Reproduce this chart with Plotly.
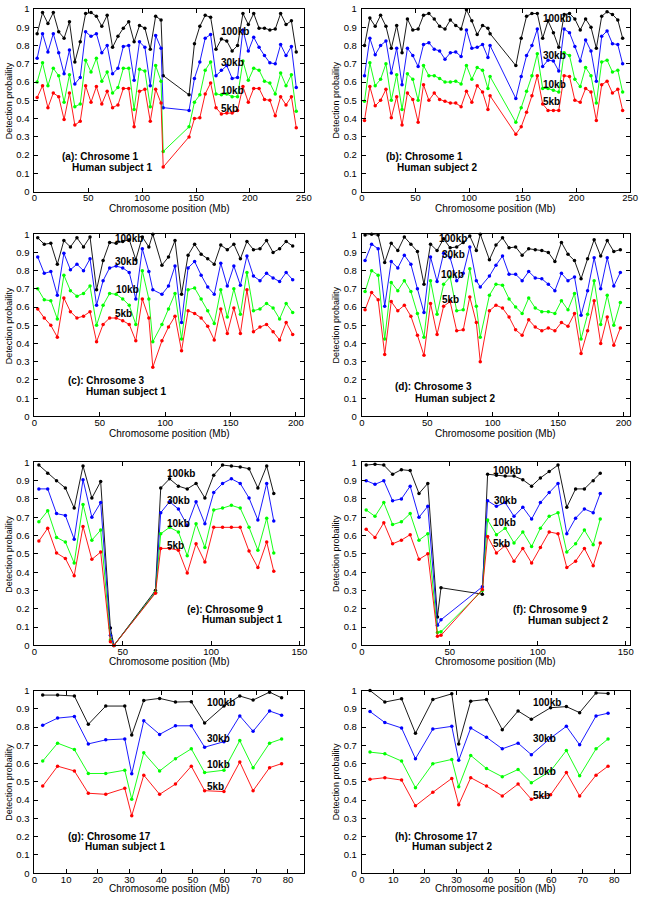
import plotly.graph_objects as go

W, H = 647, 900

# ---------------- data ----------------
series_names = ["100kb", "30kb", "10kb", "5kb"]
series_colors = ["#000000", "#0000ff", "#00ff00", "#ff0000"]

chr1_x = [2.5, 7.5, 12.5, 17.5, 22.5, 27.5, 32.5, 37.5, 42.5, 47.5, 52.5, 57.5, 62.5, 67.5, 72.5,
          77.5, 82.5, 87.5, 92.5, 97.5, 102.5, 107.5, 112.5, 117.5, 119.5, 143.5, 148.5, 153.5,
          158.5, 163.5, 168.5, 173.5, 178.5, 183.5, 188.5, 193.5, 198.5, 203.5, 208.5, 213.5,
          218.5, 223.5, 228.5, 233.5, 238.5, 243.0]

a_100 = [0.865, 0.98, 0.92, 0.98, 0.875, 0.84, 0.93, 0.71, 0.82, 0.975, 0.98, 0.96, 0.905, 0.965, 0.79,
         0.85, 0.895, 0.93, 0.82, 0.91, 0.895, 0.78, 0.96, 0.94, 0.635, 0.53, 0.81, 0.905, 0.965, 0.955,
         0.78, 0.835, 0.825, 0.77, 0.80, 0.975, 0.915, 0.975, 0.895, 0.895, 0.885, 0.89, 0.975, 0.915,
         0.935, 0.765]
a_30 = [0.73, 0.865, 0.765, 0.865, 0.76, 0.645, 0.775, 0.59, 0.625, 0.875, 0.85, 0.865, 0.76, 0.80, 0.645,
        0.675, 0.795, 0.80, 0.61, 0.82, 0.79, 0.58, 0.855, 0.785, 0.46, 0.445, 0.62, 0.71, 0.84, 0.86,
        0.635, 0.665, 0.69, 0.62, 0.625, 0.885, 0.77, 0.845, 0.79, 0.745, 0.705, 0.70, 0.805, 0.745,
        0.795, 0.57]
a_10 = [0.60, 0.705, 0.58, 0.675, 0.635, 0.49, 0.64, 0.465, 0.48, 0.72, 0.655, 0.73, 0.605, 0.655, 0.54,
        0.57, 0.675, 0.675, 0.45, 0.67, 0.66, 0.465, 0.69, 0.605, 0.22, 0.355, 0.49, 0.53, 0.665, 0.71,
        0.535, 0.53, 0.535, 0.52, 0.52, 0.715, 0.61, 0.675, 0.665, 0.605, 0.595, 0.535, 0.65, 0.58,
        0.64, 0.44]
a_5 = [0.515, 0.58, 0.46, 0.54, 0.52, 0.395, 0.54, 0.365, 0.385, 0.58, 0.49, 0.575, 0.48, 0.55, 0.46,
       0.475, 0.565, 0.565, 0.355, 0.55, 0.56, 0.385, 0.56, 0.485, 0.135, 0.30, 0.40, 0.405, 0.535,
       0.595, 0.46, 0.425, 0.43, 0.43, 0.445, 0.575, 0.49, 0.565, 0.565, 0.505, 0.50, 0.415, 0.52,
       0.475, 0.52, 0.35]

b_100 = [0.80, 0.95, 0.905, 0.965, 0.905, 0.785, 0.91, 0.76, 0.945, 0.885, 0.89, 0.965, 0.975, 0.945,
         0.905, 0.89, 0.94, 0.91, 0.89, 0.995, 0.935, 0.86, 0.91, 0.895, 0.865, 0.69, 0.84, 0.96, 0.975,
         0.975, 0.84, 0.935, 0.87, 0.79, 0.97, 0.975, 0.945, 0.885, 0.945, 0.90, 0.785, 0.96, 0.985,
         0.97, 0.94, 0.84]
b_30 = [0.635, 0.84, 0.75, 0.80, 0.825, 0.65, 0.785, 0.585, 0.785, 0.745, 0.685, 0.805, 0.815, 0.78,
        0.77, 0.725, 0.76, 0.765, 0.74, 0.885, 0.785, 0.79, 0.805, 0.735, 0.80, 0.51, 0.63, 0.745, 0.80,
        0.89, 0.685, 0.72, 0.715, 0.66, 0.89, 0.87, 0.795, 0.715, 0.83, 0.77, 0.605, 0.85, 0.88, 0.81,
        0.805, 0.70]
b_10 = [0.495, 0.705, 0.58, 0.615, 0.70, 0.50, 0.64, 0.45, 0.645, 0.615, 0.50, 0.69, 0.635, 0.635, 0.62,
        0.60, 0.60, 0.605, 0.59, 0.69, 0.615, 0.68, 0.665, 0.565, 0.63, 0.38, 0.46, 0.55, 0.635, 0.755,
        0.565, 0.565, 0.555, 0.545, 0.76, 0.745, 0.615, 0.575, 0.68, 0.635, 0.485, 0.71, 0.72, 0.655,
        0.665, 0.545]
b_5 = [0.39, 0.575, 0.47, 0.50, 0.56, 0.405, 0.52, 0.365, 0.54, 0.505, 0.38, 0.585, 0.50, 0.54, 0.505,
       0.495, 0.485, 0.485, 0.465, 0.55, 0.49, 0.58, 0.545, 0.45, 0.525, 0.315, 0.355, 0.435, 0.525,
       0.635, 0.48, 0.445, 0.445, 0.445, 0.635, 0.63, 0.50, 0.49, 0.565, 0.545, 0.39, 0.585, 0.605,
       0.54, 0.56, 0.445]

chr3_x = [2.5, 7.5, 12.5, 17.5, 22.5, 27.5, 32.5, 37.5, 42.5, 47.5, 52.5, 57.5, 62.5, 67.5, 72.5, 77.5,
          82.5, 87.5, 90.5, 97.5, 102.5, 107.5, 112.5, 117.5, 122.5, 127.5, 132.5, 137.5, 142.5, 147.5,
          152.5, 157.5, 162.5, 167.5, 172.5, 177.5, 182.5, 187.5, 192.5, 197.5]

c_100 = [0.98, 0.945, 0.95, 0.835, 0.965, 0.93, 0.98, 0.93, 0.985, 0.695, 0.855, 0.955, 0.95, 0.96, 0.97,
         0.86, 0.985, 0.93, 1.0, 0.83, 0.875, 0.965, 0.67, 0.885, 0.945, 0.89, 0.865, 0.835, 0.94, 0.915,
         0.945, 0.865, 0.96, 0.915, 0.92, 0.965, 0.90, 0.92, 0.96, 0.935]
c_30 = [0.875, 0.785, 0.795, 0.665, 0.895, 0.805, 0.835, 0.80, 0.865, 0.61, 0.745, 0.815, 0.825, 0.815,
        0.79, 0.645, 0.92, 0.795, 0.695, 0.67, 0.715, 0.825, 0.515, 0.815, 0.85, 0.775, 0.71, 0.67, 0.84,
        0.715, 0.825, 0.72, 0.88, 0.77, 0.745, 0.785, 0.76, 0.74, 0.79, 0.75]
c_10 = [0.70, 0.64, 0.635, 0.535, 0.775, 0.69, 0.66, 0.675, 0.715, 0.50, 0.61, 0.675, 0.67, 0.645, 0.61,
        0.505, 0.80, 0.645, 0.41, 0.505, 0.59, 0.675, 0.425, 0.695, 0.705, 0.645, 0.58, 0.51, 0.695,
        0.545, 0.70, 0.56, 0.79, 0.58, 0.59, 0.62, 0.595, 0.535, 0.62, 0.57]
c_5 = [0.59, 0.54, 0.50, 0.435, 0.65, 0.575, 0.54, 0.55, 0.575, 0.41, 0.505, 0.54, 0.54, 0.525, 0.505,
       0.415, 0.645, 0.54, 0.27, 0.415, 0.49, 0.55, 0.36, 0.58, 0.565, 0.54, 0.495, 0.42, 0.59, 0.455,
       0.595, 0.455, 0.695, 0.465, 0.49, 0.505, 0.465, 0.42, 0.515, 0.45]

d_100 = [0.995, 1.0, 0.995, 0.845, 0.95, 0.91, 0.985, 0.945, 0.905, 0.725, 0.945, 0.91, 0.975, 0.925,
         0.93, 0.955, 0.99, 0.91, 1.0, 0.86, 0.94, 0.98, 0.925, 0.93, 0.885, 0.92, 0.915, 0.91, 0.90,
         0.85, 0.955, 0.89, 0.855, 0.755, 0.865, 0.97, 0.88, 0.965, 0.905, 0.915]
d_30 = [0.855, 0.945, 0.92, 0.605, 0.85, 0.815, 0.885, 0.835, 0.70, 0.57, 0.875, 0.74, 0.895, 0.87, 0.745,
        0.785, 0.93, 0.745, 0.71, 0.77, 0.83, 0.88, 0.78, 0.78, 0.745, 0.795, 0.76, 0.755, 0.725, 0.69,
        0.785, 0.745, 0.765, 0.555, 0.69, 0.87, 0.70, 0.87, 0.715, 0.79]
d_10 = [0.685, 0.80, 0.775, 0.425, 0.735, 0.69, 0.745, 0.685, 0.565, 0.435, 0.745, 0.56, 0.725, 0.765,
        0.58, 0.585, 0.81, 0.605, 0.435, 0.665, 0.725, 0.72, 0.645, 0.60, 0.565, 0.65, 0.595, 0.575,
        0.575, 0.565, 0.635, 0.585, 0.675, 0.425, 0.56, 0.745, 0.505, 0.665, 0.50, 0.625]
d_5 = [0.585, 0.68, 0.64, 0.34, 0.63, 0.58, 0.61, 0.55, 0.445, 0.335, 0.62, 0.45, 0.605, 0.63, 0.47,
       0.475, 0.655, 0.515, 0.30, 0.58, 0.61, 0.595, 0.545, 0.475, 0.445, 0.53, 0.49, 0.47, 0.485, 0.47,
       0.515, 0.495, 0.565, 0.345, 0.47, 0.635, 0.40, 0.545, 0.39, 0.485]

chr9_x = [2.5, 7.5, 12.5, 17.5, 22.5, 27.5, 32.5, 37.5, 43.0, 45.0, 68.5, 71.5, 76.5, 81.5, 86.5, 91.5,
          96.5, 101.5, 106.5, 111.5, 116.5, 121.5, 126.5, 131.5, 135.5]

e_100 = [0.985, 0.94, 0.90, 0.86, 0.75, 0.98, 0.805, 0.895, 0.095, 0.0, 0.30, 0.86, 0.91, 0.87, 0.855,
         0.885, 0.805, 0.93, 0.985, 0.98, 0.975, 0.965, 0.86, 0.98, 0.83]
e_30 = [0.855, 0.855, 0.72, 0.71, 0.58, 0.905, 0.70, 0.78, 0.055, 0.0, 0.29, 0.725, 0.785, 0.745, 0.655,
        0.785, 0.665, 0.835, 0.885, 0.91, 0.885, 0.805, 0.685, 0.885, 0.68]
e_10 = [0.675, 0.735, 0.59, 0.565, 0.45, 0.77, 0.575, 0.63, 0.03, 0.0, 0.29, 0.61, 0.645, 0.62, 0.49,
        0.665, 0.535, 0.74, 0.75, 0.765, 0.75, 0.645, 0.52, 0.695, 0.505]
e_5 = [0.57, 0.64, 0.505, 0.475, 0.38, 0.65, 0.47, 0.51, 0.02, 0.0, 0.285, 0.53, 0.53, 0.52, 0.395, 0.555,
       0.455, 0.645, 0.645, 0.645, 0.645, 0.515, 0.425, 0.565, 0.405]

f_100 = [0.985, 0.99, 0.985, 0.935, 0.96, 0.955, 0.83, 0.885, 0.155, 0.315, 0.28, 0.935, 0.93, 0.925,
         0.925, 0.905, 0.87, 0.915, 0.95, 0.985, 0.755, 0.855, 0.855, 0.90, 0.94]
f_30 = [0.90, 0.88, 0.90, 0.79, 0.80, 0.87, 0.70, 0.76, 0.11, 0.14, 0.32, 0.79, 0.76, 0.78, 0.705, 0.755,
        0.69, 0.78, 0.835, 0.885, 0.61, 0.695, 0.745, 0.725, 0.83]
f_10 = [0.74, 0.705, 0.78, 0.66, 0.675, 0.72, 0.575, 0.61, 0.07, 0.075, 0.30, 0.685, 0.605, 0.64, 0.56,
        0.62, 0.54, 0.64, 0.705, 0.725, 0.51, 0.555, 0.63, 0.55, 0.69]
f_5 = [0.635, 0.59, 0.67, 0.555, 0.575, 0.605, 0.47, 0.50, 0.05, 0.055, 0.305, 0.595, 0.505, 0.545, 0.46,
       0.53, 0.45, 0.535, 0.62, 0.61, 0.425, 0.46, 0.53, 0.435, 0.56]

chr17_x = [2.6, 7.3, 12.6, 17.0, 22.5, 28.5, 30.7, 34.5, 39.5, 44.5, 49.5, 53.7, 59.8, 64.8, 69.0, 74.2, 78.0]

g_100 = [0.975, 0.975, 0.97, 0.815, 0.915, 0.915, 0.757, 0.946, 0.957, 0.937, 0.939, 0.822, 0.915, 0.97,
         0.948, 0.991, 0.96]
g_30 = [0.81, 0.849, 0.858, 0.708, 0.73, 0.735, 0.544, 0.834, 0.76, 0.807, 0.807, 0.69, 0.72, 0.861, 0.777,
        0.888, 0.865]
g_10 = [0.614, 0.712, 0.677, 0.546, 0.546, 0.564, 0.405, 0.659, 0.56, 0.627, 0.681, 0.551, 0.564, 0.726,
        0.577, 0.712, 0.735]
g_5 = [0.477, 0.586, 0.56, 0.438, 0.432, 0.465, 0.315, 0.537, 0.432, 0.488, 0.586, 0.452, 0.447, 0.609,
       0.452, 0.578, 0.60]

h_100 = [1.0, 0.937, 0.955, 0.766, 0.951, 0.982, 0.708, 0.942, 0.951, 0.786, 0.888, 0.843, 0.906, 0.912,
         0.879, 0.987, 0.984]
h_30 = [0.885, 0.825, 0.795, 0.627, 0.789, 0.804, 0.618, 0.795, 0.744, 0.681, 0.712, 0.649, 0.74, 0.804,
        0.703, 0.861, 0.876]
h_10 = [0.663, 0.654, 0.614, 0.468, 0.60, 0.623, 0.474, 0.645, 0.573, 0.528, 0.568, 0.495, 0.56, 0.672,
        0.533, 0.681, 0.735]
h_5 = [0.514, 0.523, 0.51, 0.369, 0.443, 0.519, 0.375, 0.523, 0.477, 0.423, 0.488, 0.405, 0.429, 0.551,
       0.423, 0.537, 0.586]

xticks_chr1 = [0, 50, 100, 150, 200, 250]
xticks_chr3 = [0, 50, 100, 150, 200]
xticks_chr9 = [0, 50, 100, 150]
xticks_chr17 = [0, 10, 20, 30, 40, 50, 60, 70, 80]
yticks = [0, 0.1, 0.2, 0.3, 0.4, 0.5, 0.6, 0.7, 0.8, 0.9, 1]
ytick_text = ["0", "0.1", "0.2", "0.3", "0.4", "0.5", "0.6", "0.7", "0.8", "0.9", "1"]

captions = [("(a): Chrosome 1", "Human subject 1"), ("(b): Chrosome 1", "Human subject 2"),
            ("(c): Chrosome 3", "Human subject 1"), ("(d): Chrosome 3", "Human subject 2"),
            ("(e): Chrosome 9", "Human subject 1"), ("(f): Chrosome 9", "Human subject 2"),
            ("(g): Chrosome 17", "Human subject 1"), ("(h): Chrosome 17", "Human subject 2")]

# ---------------- layout config (pixels / data positions) ----------------
left_px = (32, 306)
right_px = (365, 638)
rows_px = [(3, 188), (231, 415.5), (462, 647.3), (693, 878)]
xtitle_px = [205, 432.5, 664, 893]

panels = [
    dict(x=chr1_x, s=[a_100, a_30, a_10, a_5], xmax=250, xt=xticks_chr1,
         lab=[(171, 0.877), (171, 0.708), (171, 0.555), (171, 0.454)], cap=((24, 0.193), (33, 0.135))),
    dict(x=chr1_x, s=[b_100, b_30, b_10, b_5], xmax=250, xt=xticks_chr1,
         lab=[(167, 0.946), (167, 0.748), (167, 0.585), (167, 0.495)], cap=((21, 0.193), (30.5, 0.135))),
    dict(x=chr3_x, s=[c_100, c_30, c_10, c_5], xmax=206, xt=xticks_chr3,
         lab=[(60, 0.975), (60, 0.851), (61, 0.697), (60, 0.565)], cap=((24, 0.197), (38, 0.138))),
    dict(x=chr3_x, s=[d_100, d_30, d_10, d_5], xmax=205, xt=xticks_chr3,
         lab=[(57.5, 0.975), (60, 0.888), (59, 0.776), (59.5, 0.644)], cap=((24, 0.163), (39, 0.10))),
    dict(x=chr9_x, s=[e_100, e_30, e_10, e_5], xmax=152.5, xt=xticks_chr9,
         lab=[(74, 0.937), (74, 0.794), (74, 0.668), (74, 0.546)], cap=((85, 0.198), (93.5, 0.14))),
    dict(x=chr9_x, s=[f_100, f_30, f_10, f_5], xmax=152.5, xt=xticks_chr9,
         lab=[(73.5, 0.955), (74, 0.794), (73.5, 0.672), (73.5, 0.555)], cap=((85, 0.198), (93.5, 0.138))),
    dict(x=chr17_x, s=[g_100, g_30, g_10, g_5], xmax=85, xt=xticks_chr17,
         lab=[(53.7, 0.937), (53.7, 0.739), (53.7, 0.596), (53.7, 0.474)], cap=((9.8, 0.202), (15.3, 0.145))),
    dict(x=chr17_x, s=[h_100, h_30, h_10, h_5], xmax=85, xt=xticks_chr17,
         lab=[(53.7, 0.937), (53.7, 0.739), (53.7, 0.559), (53.7, 0.425)], cap=((9.8, 0.202), (15.3, 0.145))),
]

FONT = "Arial, Liberation Sans, Helvetica, sans-serif"
fig = go.Figure()
annotations = []
layout = dict(width=W, height=H, margin=dict(l=0, r=0, t=0, b=0),
              paper_bgcolor="white", plot_bgcolor="white", showlegend=False,
              font=dict(family=FONT, size=10, color="black"))

for i, p in enumerate(panels):
    n = i + 1
    col = i % 2
    row = i // 2
    xp = left_px if col == 0 else right_px
    yp = rows_px[row]
    xname = "xaxis" if n == 1 else f"xaxis{n}"
    yname = "yaxis" if n == 1 else f"yaxis{n}"
    xref = "x" if n == 1 else f"x{n}"
    yref = "y" if n == 1 else f"y{n}"
    common = dict(showline=True, linecolor="black", linewidth=1, mirror="ticks", ticks="inside",
                  ticklen=4, tickcolor="black", showgrid=False, zeroline=False,
                  tickfont=dict(family=FONT, size=9.5, color="black"))
    layout[xname] = dict(domain=[xp[0] / W, xp[1] / W], range=[0, p["xmax"]], tickvals=p["xt"],
                         anchor=yref, ticklabelstandoff=-3, ticklabeloverflow="allow", **common)
    layout[yname] = dict(domain=[1 - yp[1] / H, 1 - yp[0] / H], range=[0, 1], tickvals=yticks,
                         ticktext=ytick_text, anchor=xref, ticklabelstandoff=2, **common)
    for sname, color, vals in zip(series_names, series_colors, p["s"]):
        fig.add_trace(go.Scatter(x=p["x"], y=vals, mode="lines+markers", name=sname,
                                 line=dict(color=color, width=0.9),
                                 marker=dict(color=color, size=3.5, symbol="circle"),
                                 xaxis=xref, yaxis=yref, cliponaxis=False))
    for sname, (lx, ly) in zip(series_names, p["lab"]):
        annotations.append(dict(x=lx, y=ly, xref=xref, yref=yref, text=f"<b>{sname}</b>",
                                showarrow=False, xanchor="left", yanchor="middle",
                                font=dict(family=FONT, size=10, color="black")))
    (c1x, c1y), (c2x, c2y) = p["cap"]
    annotations.append(dict(x=c1x, y=c1y, xref=xref, yref=yref, text=f"<b>{captions[i][0]}</b>",
                            showarrow=False, xanchor="left", yanchor="middle",
                            font=dict(family=FONT, size=10, color="black")))
    annotations.append(dict(x=c2x, y=c2y, xref=xref, yref=yref, text=f"<b>{captions[i][1]}</b>",
                            showarrow=False, xanchor="left", yanchor="middle",
                            font=dict(family=FONT, size=10, color="black")))
    # axis titles
    annotations.append(dict(x=(xp[0] + xp[1]) / 2 / W, y=1 - xtitle_px[row] / H, xref="paper", yref="paper",
                            text="Chromosome position (Mb)", showarrow=False, xanchor="center",
                            yanchor="middle", font=dict(family=FONT, size=10, color="black")))
    annotations.append(dict(x=(xp[0] - 26) / W, y=1 - (yp[0] + yp[1]) / 2 / H, xref="paper", yref="paper",
                            text="Detection probaility", showarrow=False, textangle=-90,
                            xanchor="center", yanchor="middle",
                            font=dict(family=FONT, size=9, color="black")))

layout["annotations"] = annotations
fig.update_layout(**layout)
fig.write_html("out.html", config={"displayModeBar": False},
               post_script="document.body.style.margin='0';document.body.style.overflow='hidden';")
